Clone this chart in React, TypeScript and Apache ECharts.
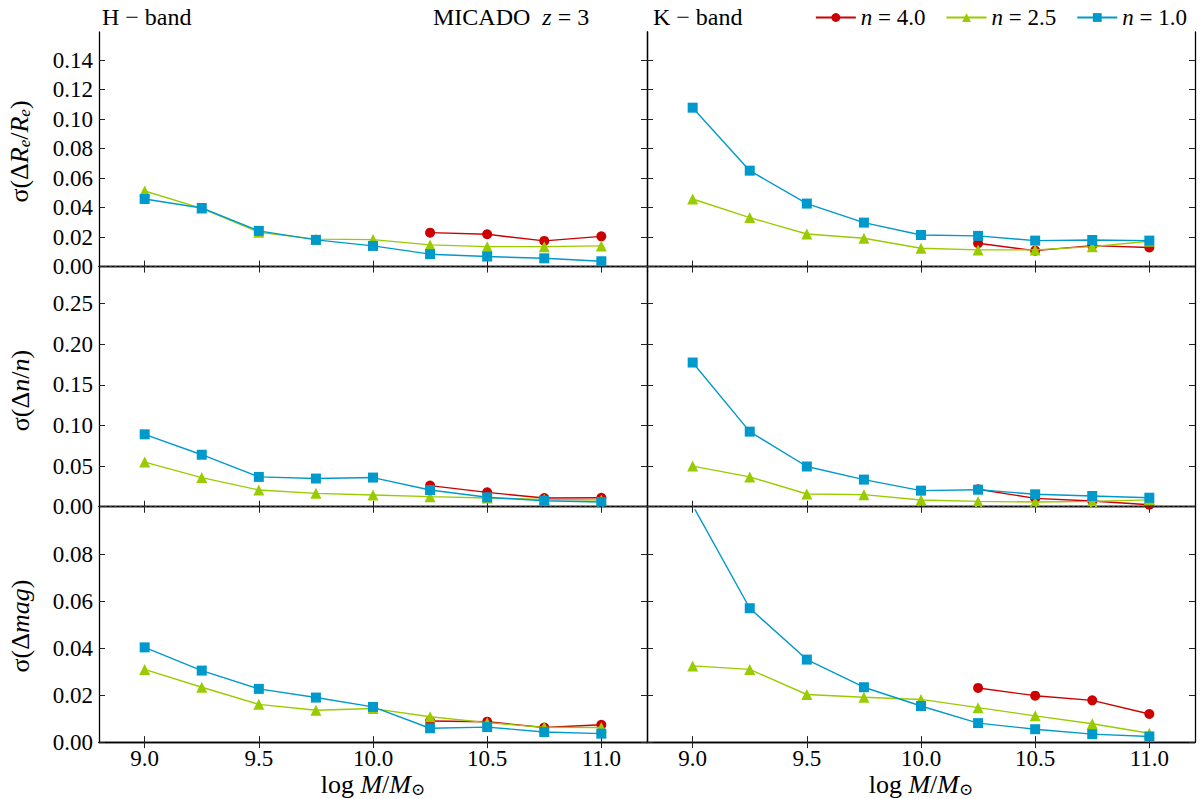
import React, { useEffect, useRef } from "react";
import * as echarts from "echarts";

// stellar mass bins
const masses = [9.0, 9.25, 9.5, 9.75, 10.0, 10.25, 10.5, 10.75, 11.0];
const massesHigh = [10.25, 10.5, 10.75, 11.0];

// H-band, sigma(dRe/Re)
const hReN4 = [0.023, 0.0219, 0.0174, 0.0205];
const hReN25 = [0.0512, 0.0395, 0.0233, 0.0186, 0.0183, 0.0147, 0.0135, 0.0135, 0.014];
const hReN1 = [0.0458, 0.0397, 0.0242, 0.0181, 0.014, 0.0084, 0.0068, 0.0056, 0.0036];

// K-band, sigma(dRe/Re)
const kReN4 = [0.0158, 0.0108, 0.0142, 0.0129];
const kReN25 = [0.0458, 0.0332, 0.0221, 0.0192, 0.0124, 0.0113, 0.0113, 0.0135, 0.0172];
const kReN1 = [0.1077, 0.065, 0.0427, 0.0298, 0.0214, 0.0208, 0.0176, 0.018, 0.0176];

// H-band, sigma(dn/n)
const hNN4 = [0.026, 0.0177, 0.0107, 0.0111];
const hNN25 = [0.0549, 0.0359, 0.0206, 0.0165, 0.0144, 0.0124, 0.0107, 0.0091, 0.0083];
const hNN1 = [0.0891, 0.064, 0.0367, 0.0347, 0.0359, 0.0206, 0.0116, 0.0074, 0.0058];

// K-band, sigma(dn/n)
const kNN4 = [0.0215, 0.0103, 0.007, 0.0025];
const kNN25 = [0.05, 0.0367, 0.0157, 0.0149, 0.0083, 0.0066, 0.0058, 0.0066, 0.0085];
const kNN1 = [0.1774, 0.0924, 0.0495, 0.0334, 0.0198, 0.021, 0.0153, 0.0132, 0.0111];

// H-band, sigma(dmag)
const hMagN4 = [0.009, 0.0087, 0.0062, 0.0074];
const hMagN25 = [0.031, 0.0234, 0.0161, 0.0136, 0.0143, 0.0108, 0.0083, 0.0063, 0.0062];
const hMagN1 = [0.0404, 0.0305, 0.0227, 0.019, 0.015, 0.0059, 0.0064, 0.0043, 0.0036];

// K-band, sigma(dmag)
const kMagN4 = [0.0231, 0.0198, 0.0178, 0.012];
const kMagN25 = [0.0325, 0.031, 0.0203, 0.0191, 0.0182, 0.0147, 0.0112, 0.0078, 0.0038];
const kMagN1 = [0.101, 0.0571, 0.0352, 0.0234, 0.0154, 0.0081, 0.0055, 0.0034, 0.0024];

// ticks
const xTicks = [9.0, 9.5, 10.0, 10.5, 11.0];
const yTicksRe = [0, 0.02, 0.04, 0.06, 0.08, 0.1, 0.12, 0.14];
const yTicksN = [0, 0.05, 0.1, 0.15, 0.2, 0.25];
const yTicksMag = [0, 0.02, 0.04, 0.06, 0.08];

const seriesNames = ["n = 4.0", "n = 2.5", "n = 1.0"];
const colors = ["#cc0000", "#99cc00", "#0099cc"];
const symbols = ["circle", "triangle", "rect"];
const symbolSizes = [10, 11, 10];

const FONT = "'Liberation Serif', 'DejaVu Serif', serif";

const rows = [
  { top: 32, height: 239, min: -0.003, max: 0.159, ticks: yTicksRe, name: "{t|σ(Δ}{i|R}{s|e}{t|/}{i|R}{s|e}{t|)}", zeroLine: true },
  { top: 271, height: 239, min: -0.004, max: 0.29, ticks: yTicksN, name: "{t|σ(Δ}{i|n}{t|/}{i|n}{t|)}", zeroLine: true },
  { top: 510, height: 238, min: 0, max: 0.099, ticks: yTicksMag, name: "{t|σ(Δ}{i|mag}{t|)}", zeroLine: false },
];
const cols = [
  { left: 99, width: 548 },
  { left: 647, width: 548 },
];

const panels = [
  [hReN4, hReN25, hReN1],
  [kReN4, kReN25, kReN1],
  [hNN4, hNN25, hNN1],
  [kNN4, kNN25, kNN1],
  [hMagN4, hMagN25, hMagN1],
  [kMagN4, kMagN25, kMagN1],
];

const nameRich = {
  t: { fontSize: 26, fontFamily: FONT, color: "#000" },
  i: { fontSize: 26, fontFamily: FONT, fontStyle: "italic", color: "#000" },
  s: { fontSize: 17, fontFamily: FONT, fontStyle: "italic", color: "#000", padding: [11, 0, 0, 0] },
};

const axisLine = { show: true, lineStyle: { color: "#000", width: 1.3 } };
const tickStyle = { color: "#222", width: 1 };

const App: React.FC = () => {
  const chartRef = useRef<HTMLDivElement>(null);

  useEffect(() => {
    if (!chartRef.current) return;
    const chart = echarts.init(chartRef.current, null, { renderer: "svg" });

    const grids: any[] = [];
    const xAxes: any[] = [];
    const yAxes: any[] = [];
    const series: any[] = [];

    rows.forEach((row, r) => {
      cols.forEach((col, c) => {
        const g = r * 2 + c;
        grids.push({ left: col.left, top: row.top, width: col.width, height: row.height });
        const bottomRow = r === rows.length - 1;
        xAxes.push({
          type: "value",
          gridIndex: g,
          position: "bottom",
          min: 8.8,
          max: 11.2,
          axisLine,
          axisTick: { inside: true, length: 6, lineStyle: tickStyle, customValues: xTicks },
          axisLabel: {
            show: bottomRow,
            customValues: xTicks,
            formatter: (v: number) => v.toFixed(1),
            color: "#000",
            fontSize: 23,
            fontFamily: FONT,
            margin: 5,
          },
          splitLine: { show: false },
          name: bottomRow ? "{t|log }{i|M}{t|/}{i|M}{s|⊙}" : "",
          nameLocation: "middle",
          nameGap: 26,
          nameTextStyle: { rich: nameRich },
        });
        xAxes.push({
          type: "value",
          gridIndex: g,
          position: "top",
          min: 8.8,
          max: 11.2,
          axisLine,
          axisTick: { inside: true, length: 6, lineStyle: tickStyle, customValues: xTicks },
          axisLabel: { show: false },
          splitLine: { show: false },
        });
        yAxes.push({
          type: "value",
          gridIndex: g,
          position: "left",
          min: row.min,
          max: row.max,
          axisLine,
          axisTick: { inside: true, length: 6, lineStyle: tickStyle, customValues: row.ticks },
          axisLabel: {
            show: c === 0,
            customValues: row.ticks,
            formatter: (v: number) => v.toFixed(2),
            color: "#000",
            fontSize: 23,
            fontFamily: FONT,
            margin: 6,
          },
          splitLine: { show: false },
          name: c === 0 ? row.name : "",
          nameLocation: "middle",
          nameGap: 66,
          nameRotate: 90,
          nameTextStyle: { rich: nameRich },
        });
        yAxes.push({
          type: "value",
          gridIndex: g,
          position: "right",
          min: row.min,
          max: row.max,
          axisLine,
          axisTick: { inside: true, length: 6, lineStyle: tickStyle, customValues: row.ticks },
          axisLabel: { show: false },
          splitLine: { show: false },
        });

        panels[g].forEach((vals, k) => {
          const xs = k === 0 ? massesHigh : masses;
          const s: any = {
            name: seriesNames[k],
            type: "line",
            xAxisIndex: g * 2,
            yAxisIndex: g * 2,
            data: vals.map((v, j) => [xs[j], v]),
            symbol: symbols[k],
            symbolSize: symbolSizes[k],
            clip: true,
            lineStyle: { color: colors[k], width: 1.4 },
            itemStyle: { color: colors[k] },
            z: 2 + k,
          };
          if (k === 0 && row.zeroLine) {
            s.markLine = {
              silent: true,
              symbol: "none",
              label: { show: false },
              lineStyle: { color: "#333", type: [3, 2], width: 1 },
              data: [{ yAxis: 0 }],
            };
          }
          series.push(s);
        });
      });
    });

    const titleStyle = { fontSize: 24, fontWeight: "normal", fontFamily: FONT, color: "#000" };

    chart.setOption({
      animation: false,
      textStyle: { fontFamily: FONT },
      title: [
        { text: "H − band", left: 97, top: 0, textStyle: titleStyle },
        {
          text: "{t|MICADO  }{i|z}{t| = 3}",
          left: 428,
          top: 0,
          textStyle: {
            ...titleStyle,
            rich: {
              t: { fontSize: 24, fontFamily: FONT, fontWeight: "normal", color: "#000" },
              i: { fontSize: 24, fontFamily: FONT, fontWeight: "normal", fontStyle: "italic", color: "#000" },
            },
          },
        },
        { text: "K − band", left: 648, top: 0, textStyle: titleStyle },
      ],
      legend: {
        data: seriesNames,
        right: 8,
        top: 1,
        itemWidth: 40,
        itemHeight: 11,
        itemGap: 20,
        formatter: (name: string) => `{i|n}{t| = ${name.split("= ")[1]}}`,
        textStyle: {
          fontSize: 23,
          fontFamily: FONT,
          color: "#000",
          rich: {
            t: { fontSize: 23, fontFamily: FONT, color: "#000" },
            i: { fontSize: 23, fontFamily: FONT, fontStyle: "italic", color: "#000" },
          },
        },
      },
      grid: grids,
      xAxis: xAxes,
      yAxis: yAxes,
      series,
    });

    return () => {
      chart.dispose();
    };
  }, []);

  return (
    <div
      ref={chartRef}
      style={{ position: "fixed", left: 0, top: 0, width: 1200, height: 799, background: "#fff" }}
    />
  );
};

export default App;
